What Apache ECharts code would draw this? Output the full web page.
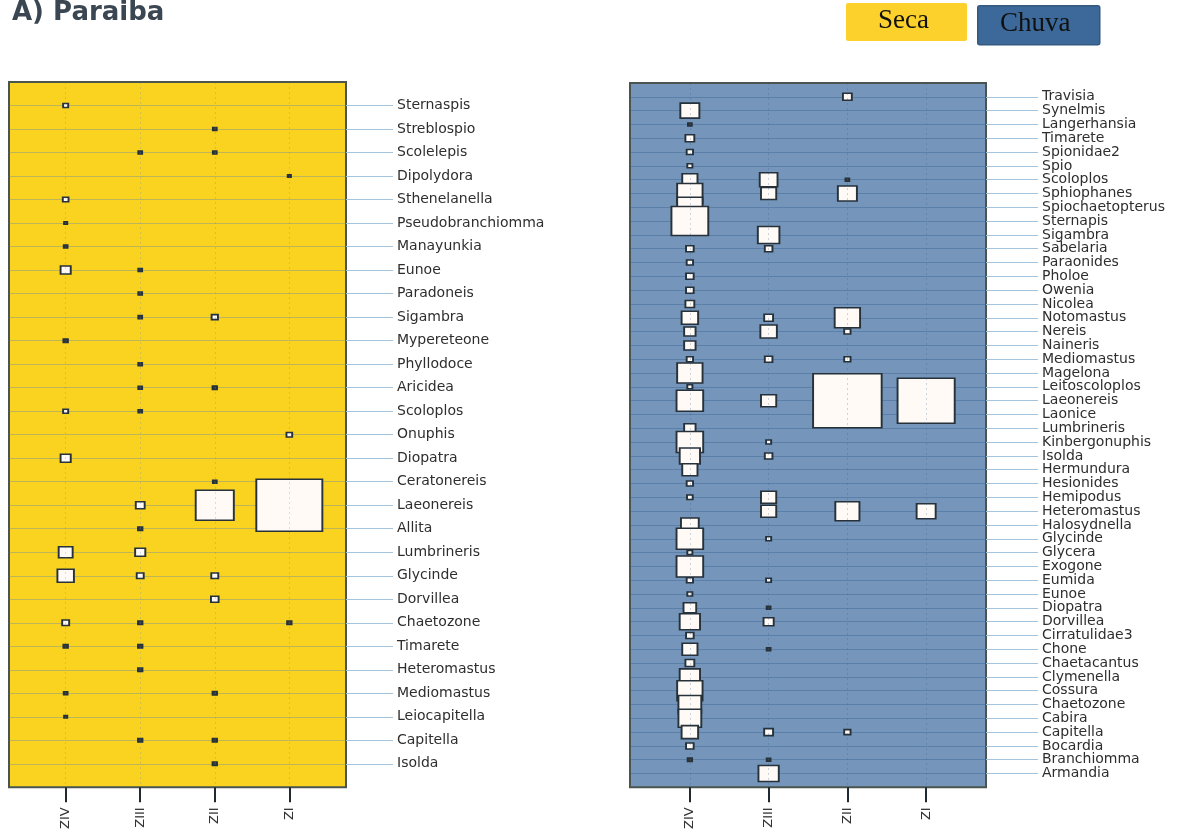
<!DOCTYPE html>
<html>
<head>
<meta charset="utf-8">
<title>A) Paraiba</title>
<script src="https://cdn.jsdelivr.net/npm/echarts@6/dist/echarts.min.js"></script>
<style>
html, body { margin: 0; padding: 0; background: #fff; }
#grafico { width: 1181px; height: 832px; }
</style>
</head>
<body>
<div id="grafico"></div>
<script>
// zonas (colunas) e especies (linhas) de cada periodo
var zonas = ['ZIV', 'ZIII', 'ZII', 'ZI'];

var especiesSeca = ['Sternaspis', 'Streblospio', 'Scolelepis', 'Dipolydora', 'Sthenelanella',
    'Pseudobranchiomma', 'Manayunkia', 'Eunoe', 'Paradoneis', 'Sigambra', 'Mypereteone',
    'Phyllodoce', 'Aricidea', 'Scoloplos', 'Onuphis', 'Diopatra', 'Ceratonereis', 'Laeonereis',
    'Allita', 'Lumbrineris', 'Glycinde', 'Dorvillea', 'Chaetozone', 'Timarete', 'Heteromastus',
    'Mediomastus', 'Leiocapitella', 'Capitella', 'Isolda'];

// tamanho relativo dos quadrados (0 = ausente)
var secaZIV  = [4, 0, 0, 0, 4.5, 2.5, 3, 8, 0, 0, 3.5, 0, 0, 4, 0, 8, 0, 0, 0, 11, 13, 0, 5.5, 3.5, 0, 3, 2.5, 0, 0];
var secaZIII = [0, 0, 3, 0, 0, 0, 0, 3, 3, 3, 0, 3, 3, 3, 0, 0, 0, 7, 3.5, 8, 5.5, 0, 3.5, 3.5, 3.5, 0, 0, 3.5, 0];
var secaZII  = [0, 3, 3, 0, 0, 0, 0, 0, 0, 5, 0, 0, 3.5, 0, 0, 0, 3, 30, 0, 0, 5.5, 6, 0, 0, 0, 3.5, 0, 3.5, 3.5];
var secaZI   = [0, 0, 0, 2.5, 0, 0, 0, 0, 0, 0, 0, 0, 0, 0, 4.5, 0, 0, 52, 0, 0, 0, 0, 3.5, 0, 0, 0, 0, 0, 0];

var especiesChuva = ['Travisia', 'Synelmis', 'Langerhansia', 'Timarete', 'Spionidae2', 'Spio',
    'Scoloplos', 'Sphiophanes', 'Spiochaetopterus', 'Sternapis', 'Sigambra', 'Sabelaria',
    'Paraonides', 'Pholoe', 'Owenia', 'Nicolea', 'Notomastus', 'Nereis', 'Naineris', 'Mediomastus',
    'Magelona', 'Leitoscoloplos', 'Laeonereis', 'Laonice', 'Lumbrineris', 'Kinbergonuphis',
    'Isolda', 'Hermundura', 'Hesionides', 'Hemipodus', 'Heteromastus', 'Halosydnella', 'Glycinde',
    'Glycera', 'Exogone', 'Eumida', 'Eunoe', 'Diopatra', 'Dorvillea', 'Cirratulidae3', 'Chone',
    'Chaetacantus', 'Clymenella', 'Cossura', 'Chaetozone', 'Cabira', 'Capitella', 'Bocardia',
    'Branchiomma', 'Armandia'];

var chuvaZIV  = [0, 15, 3, 7, 5, 4, 12, 20, 20, 29, 0, 6, 5, 6, 6, 7, 13, 9, 9, 5,
    20, 4, 21, 0, 9, 21, 16, 12, 5, 4.5, 0, 14, 21, 4, 21, 5, 4, 10, 16, 6,
    12, 7, 16, 20, 18, 18, 13, 6, 3.5, 0];
var chuvaZIII = [0, 0, 0, 0, 0, 0, 14, 12, 0, 0, 17, 6, 0, 0, 0, 0, 7, 13, 0, 6,
    0, 0, 12, 0, 0, 4, 6, 0, 0, 12, 12, 0, 4, 0, 0, 4, 0, 3, 8, 0,
    3, 0, 0, 0, 0, 0, 7, 0, 3, 16];
var chuvaZII  = [7, 0, 0, 0, 0, 0, 3, 15, 0, 0, 0, 0, 0, 0, 0, 0, 20, 5, 0, 5,
    0, 0, 54, 0, 0, 0, 0, 0, 0, 0, 19, 0, 0, 0, 0, 0, 0, 0, 0, 0,
    0, 0, 0, 0, 0, 0, 5, 0, 0, 0];
var chuvaZI   = [0, 0, 0, 0, 0, 0, 0, 0, 0, 0, 0, 0, 0, 0, 0, 0, 0, 0, 0, 0,
    0, 0, 45, 0, 0, 0, 0, 0, 0, 0, 15, 0, 0, 0, 0, 0, 0, 0, 0, 0,
    0, 0, 0, 0, 0, 0, 0, 0, 0, 0];

var fonte = 'DejaVu Sans';

// monta os pontos [zona, linha, valor]; linha + 1 por causa da linha vazia no topo
function pontos(colunas) {
    var dados = [];
    colunas.forEach(function (col, z) {
        col.forEach(function (v, i) {
            if (v > 0) dados.push([z, i + 1, v]);
        });
    });
    return dados;
}

function temNome(i, v) {
    return v !== '';
}

var grids = [], xAxes = [], yAxes = [], series = [];

function painel(especies, colunas, caixa, fundo, grade, margemLabel) {
    var k = grids.length;
    grids.push({
        left: caixa[0], top: caixa[1], width: caixa[2], height: caixa[3],
        show: true, backgroundColor: fundo, borderColor: '#4a5550', borderWidth: 2
    });
    xAxes.push({
        type: 'value', gridIndex: k, min: -0.76, max: 3.76, position: 'bottom',
        axisLine: { show: false, onZero: false },
        splitLine: { show: false },
        axisTick: { show: true, customValues: [0, 1, 2, 3], length: 15, lineStyle: { color: '#1f2a33', width: 2 } },
        axisLabel: {
            customValues: [0, 1, 2, 3], rotate: 90, margin: 20,
            fontSize: 13, fontFamily: fonte, color: '#333',
            formatter: function (v) { return zonas[v]; }
        }
    });
    yAxes.push({
        type: 'category', gridIndex: k, position: 'right', inverse: true, boundaryGap: false,
        data: [''].concat(especies, ['']),
        axisLine: { show: false, onZero: false },
        axisTick: { show: true, interval: temNome, length: margemLabel - 4, lineStyle: { color: '#a3c4dc' } },
        axisLabel: { interval: 0, margin: margemLabel, fontSize: 14, fontFamily: fonte, color: '#2e2e2e' },
        splitLine: { show: true, interval: temNome, lineStyle: { color: grade, width: 1 } }
    });
    // linhas verticais das zonas
    series.push({
        type: 'scatter', xAxisIndex: k, yAxisIndex: k, data: [], z: 1,
        markLine: {
            silent: true, symbol: 'none', label: { show: false },
            lineStyle: { color: grade, type: [2, 3], width: 1, opacity: 0.7 },
            data: [{ xAxis: 0 }, { xAxis: 1 }, { xAxis: 2 }, { xAxis: 3 }]
        }
    });
    series.push({
        type: 'scatter', xAxisIndex: k, yAxisIndex: k, z: 3,
        data: pontos(colunas),
        symbol: 'rect',
        symbolSize: function (d) { return [d[2] * 1.27, d[2]]; },
        itemStyle: {
            // quadrados muito pequenos aparecem como pontos escuros
            color: function (p) { return p.value[2] <= 3.5 ? '#3b3f36' : '#fffaf6'; },
            borderColor: '#26313a', borderWidth: 1.7, opacity: 1
        }
    });
}

painel(especiesSeca, [secaZIV, secaZIII, secaZII, secaZI], [9, 82, 337, 706], '#f9d320', 'rgba(80,130,190,0.35)', 51);
painel(especiesChuva, [chuvaZIV, chuvaZIII, chuvaZII, chuvaZI], [630, 83, 356, 712], '#7596ba', 'rgba(40,85,135,0.35)', 56);

var grafico = echarts.init(document.getElementById('grafico'));
grafico.setOption({
    animation: false,
    backgroundColor: '#fff',
    title: {
        text: 'A) Paraiba', left: 7, top: -5,
        textStyle: { fontSize: 26, fontWeight: 'bold', color: '#3a4651', fontFamily: fonte }
    },
    grid: grids,
    xAxis: xAxes,
    yAxis: yAxes,
    series: series,
    graphic: [
        { type: 'rect', left: 846, top: 3, shape: { width: 121, height: 38, r: 2 }, style: { fill: '#fdd12b' } },
        { type: 'text', left: 878, top: 7, style: { text: 'Seca', font: '27px "Liberation Serif"', fill: '#111' } },
        { type: 'rect', left: 977, top: 5, shape: { width: 122, height: 39, r: 2 }, style: { fill: '#3c6999', stroke: '#33597f', lineWidth: 1.5 } },
        { type: 'text', left: 1000, top: 10, style: { text: 'Chuva', font: '27px "Liberation Serif"', fill: '#111' } }
    ]
});
</script>
</body>
</html>
